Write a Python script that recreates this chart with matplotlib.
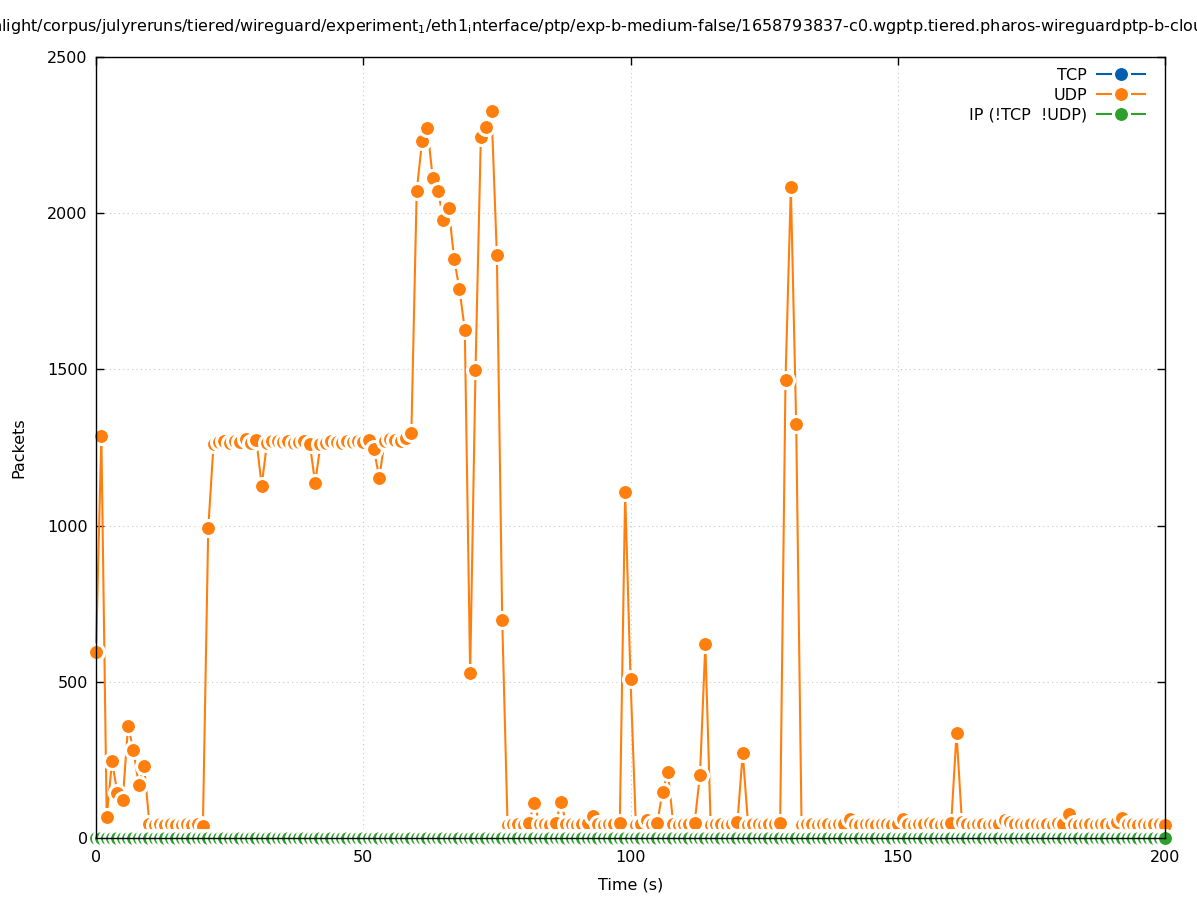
import numpy as np
import matplotlib
matplotlib.use('Agg')
import matplotlib.pyplot as plt

# one sample per second
t = np.arange(0, 201)

udp = [595, 1286, 67, 246, 144, 122, 358, 282, 170, 230,
       45, 42, 44, 42, 45, 43, 42, 44, 42, 45,
       40, 992, 1262, 1268, 1270, 1266, 1270, 1268, 1276, 1266,
       1274, 1128, 1266, 1270, 1272, 1268, 1270, 1266, 1268, 1272,
       1262, 1136, 1260, 1266, 1270, 1268, 1266, 1270, 1268, 1270,
       1268, 1274, 1245, 1152, 1272, 1278, 1274, 1272, 1280, 1296,
       2070, 2230, 2272, 2112, 2070, 1978, 2016, 1853, 1757, 1626,
       528, 1498, 2243, 2275, 2326, 1866, 698, 42, 45, 44,
       42, 48, 112, 45, 44, 42, 47, 116, 44, 45,
       42, 44, 48, 70, 45, 42, 44, 45, 49, 1107,
       510, 42, 44, 58, 45, 49, 148, 211, 44, 42,
       45, 44, 49, 202, 620, 42, 44, 45, 42, 44,
       50, 272, 42, 44, 45, 42, 44, 45, 48, 1466,
       2083, 1325, 42, 45, 44, 42, 44, 45, 42, 44,
       45, 60, 44, 42, 45, 44, 42, 45, 44, 42,
       45, 60, 44, 42, 45, 44, 48, 44, 42, 45,
       47, 336, 52, 44, 42, 45, 44, 42, 45, 44,
       58, 50, 44, 45, 42, 44, 45, 42, 44, 42,
       47, 45, 77, 44, 42, 45, 44, 42, 45, 44,
       42, 50, 65, 44, 45, 42, 44, 42, 45, 44,
       42]
tcp = [0] * 201
ip_other = [0] * 201

labels = ['TCP', 'UDP', 'IP (!TCP  !UDP)']
colors = ['#0060ad', '#ff7f0e', '#2ca02c']

TITLE_HIDDEN = "/home/user/hig"
TITLE = (TITLE_HIDDEN + "hlight/corpus/julyreruns/tiered/wireguard/experiment$_1$/eth1$_\\mathrm{i}$nterface/ptp/"
         "exp-b-medium-false/1658793837-c0.wgptp.tiered.pharos-wireguardptp-b-cloud.pcap")

FS = 11.5
W, H = 1197, 900
fig = plt.figure(figsize=(W / 100, H / 100), dpi=100)
ax = fig.add_axes([96 / W, 1 - 838 / H, (1165 - 96) / W, (838 - 57) / H])

ms = 11.5
mew = 2.2
for y, lab, c in zip([tcp, udp, ip_other], labels, colors):
    ax.plot(t, y, '-', color=c, lw=1.5, marker='o', ms=ms, mfc=c, mec='white',
            mew=mew, label=lab, clip_on=False)

ax.set_xlim(0, 200)
ax.set_ylim(0, 2500)
ax.set_xticks([0, 50, 100, 150, 200])
ax.set_yticks([0, 500, 1000, 1500, 2000, 2500])
ax.tick_params(direction='in', length=6, width=1, top=True, right=True,
               labelsize=FS, color='black')
ax.tick_params(axis='y', pad=6)
ax.tick_params(axis='x', pad=9)
ax.grid(True, linestyle=(0, (1, 3)), color='#c8c8c8', lw=0.8)
ax.set_axisbelow(True)
for s in ax.spines.values():
    s.set_linewidth(1)
ax.set_xlabel('Time (s)', fontsize=FS, labelpad=9)
ax.set_ylabel('Packets', fontsize=FS, labelpad=15)

ax.legend(loc='upper right', bbox_to_anchor=(0.9813, 0.9862), frameon=False,
          markerfirst=False, fontsize=FS, handlelength=3.0, handletextpad=0.62,
          labelspacing=0.3, borderpad=0, borderaxespad=0, numpoints=1)

# title is wider than the canvas; shift it so the same part shows
ttl = fig.text(0, 1 - 27 / H, TITLE, fontsize=FS, ha='left', va='center')
r = fig.canvas.get_renderer()
probe = fig.text(0, 0, TITLE_HIDDEN, fontsize=FS)
w = probe.get_window_extent(r).width
probe.remove()
ttl.set_x((-w - 8) / W)

fig.savefig('out.png', dpi=100)
